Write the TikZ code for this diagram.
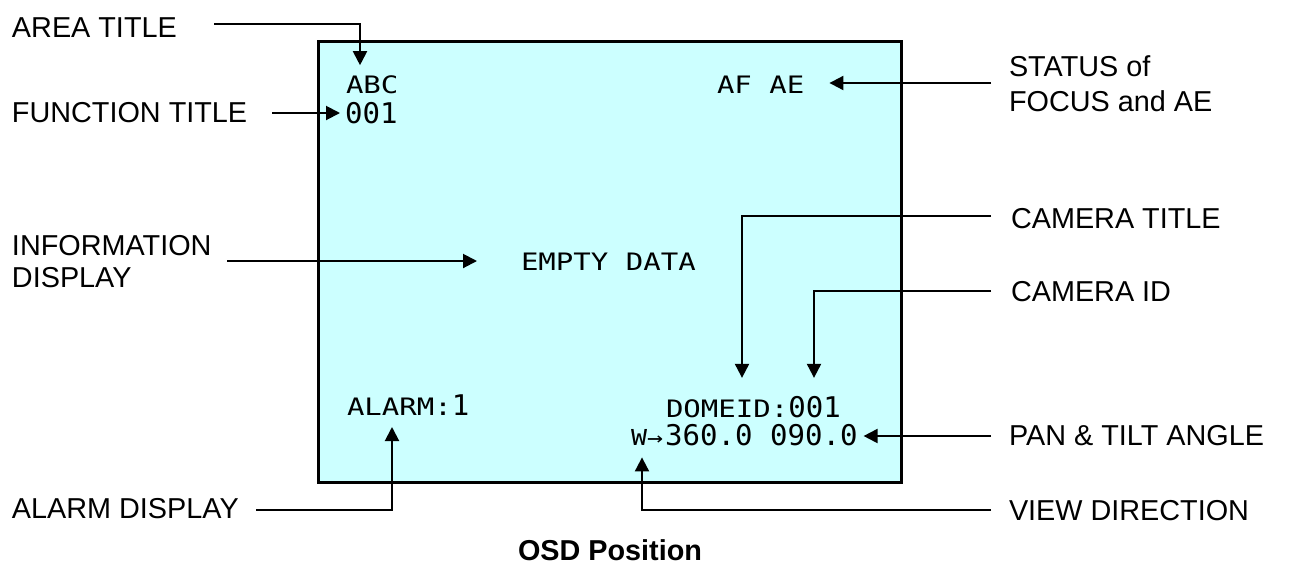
\documentclass[tikz,border=0pt]{standalone}
\usepackage{fontspec}
\setmainfont{Liberation Sans}
\newfontfamily\osdltr[FakeStretch=1.21]{DejaVu Sans Mono}
\newfontfamily\osddig[FakeStretch=1.02]{DejaVu Sans Mono}
\newcommand\Ltr{\osdltr\fontsize{24}{28}\selectfont}
\newcommand\Dig{\osddig\fontsize{28.5}{32}\selectfont}
\usetikzlibrary{arrows.meta}
\definecolor{scrcol}{HTML}{CCFFFF}
\begin{document}
\begin{tikzpicture}[x=1pt,y=-1pt,
  lab/.style={font=\fontsize{28.8}{32}\selectfont, inner sep=0pt, outer sep=0pt, anchor=base west},
  osd/.style={inner sep=0pt, outer sep=0pt, anchor=base west},
  conn/.style={line width=2pt, -{Triangle[length=14pt,width=14pt]}}]
\useasboundingbox (0,0) rectangle (1290,566);
% screen
\node[draw, line width=3pt, fill=scrcol, inner sep=0pt, outer sep=0pt,
      minimum width=583pt, minimum height=441pt, anchor=north west] (screen) at (318,41) {};
% screen texts
\node[osd] (abc)   at (346,93)  {\Ltr ABC};
\node[osd] (fnum)  at (345,123) {\Dig 001};
\node[osd] (afae)  at (717,93)  {\Ltr AF AE};
\node[osd] (empty) at (521,270) {\Ltr EMPTY DATA};
\node[osd] (alarm) at (347,415) {\Ltr ALARM:\Dig 1};
\node[osd] (dome)  at (666,417) {\Ltr DOMEID:\Dig 001};
\node[osd] (ptz)   at (631,445) {\osdltr\fontsize{22}{26}\selectfont W→\kern2pt\Dig 360.0 090.0};
% labels
\node[lab] (area) at (12,37) {AREA TITLE};
\node[lab] (func) at (12,122) {FUNCTION TITLE};
\node[lab, anchor=north west, align=left, font=\fontsize{28.8}{32}\selectfont] (info) at (12,235) {INFORMATION\\DISPLAY};
\node[lab, anchor=north west, align=left, font=\fontsize{28.8}{35}\selectfont] (status) at (1009,56) {STATUS of\\FOCUS and AE};
\node[lab] (camt)   at (1011,228) {CAMERA TITLE};
\node[lab] (camid)  at (1011,301) {CAMERA ID};
\node[lab] (pan)    at (1009,445) {PAN \& TILT ANGLE};
\node[lab] (aldisp) at (12,518) {ALARM DISPLAY};
\node[lab] (view)   at (1009,520) {VIEW DIRECTION};
\node[font=\bfseries\fontsize{28.8}{32}\selectfont, inner sep=0pt, anchor=base] (osdpos) at (610,560) {OSD Position};
% connector start points
\coordinate (a0) at (214,24);
\coordinate (f0) at (272,113);
\coordinate (s0) at (991,83);
\coordinate (i0) at (227,261);
\coordinate (c0) at (991,216);
\coordinate (d0) at (991,291);
\coordinate (p0) at (991,436);
\coordinate (v0) at (991,510);
\coordinate (l0) at (256,510);
% connectors
\draw[conn, shorten >=10pt] (a0) -| ([xshift=14pt]abc.north west);
\draw[conn, shorten >=5pt]  (f0) -- (f0 -| fnum.west);
\draw[conn, shorten >=25pt] (s0) -- (s0 -| afae.east);
\draw[conn, shorten >=44pt] (i0) -- (i0 -| empty.west);
\draw[conn, shorten >=18pt] (c0) -| ([xshift=76pt]dome.north west);
\draw[conn, shorten >=18pt] (d0) -| ([xshift=148pt]dome.north west);
\draw[conn, shorten >=6pt]  (p0) -- (p0 -| ptz.east);
\draw[conn, shorten >=12pt] (v0) -| ([xshift=11pt]ptz.south west);
\draw[conn, shorten >=12pt] (l0) -| ([xshift=45pt]alarm.south west);
\end{tikzpicture}
\end{document}
